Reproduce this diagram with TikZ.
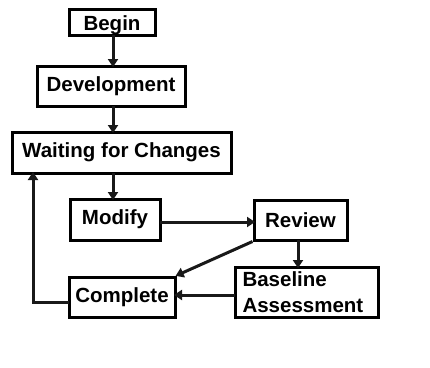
\documentclass[tikz,border=0pt]{standalone}
\usepackage{fontspec}
\setmainfont{Liberation Sans}
\usetikzlibrary{arrows.meta}
\begin{document}
\begin{tikzpicture}[x=1pt,y=-1pt,
  stagebox/.style={draw=black, line width=3pt, fill=white, inner sep=0pt,
    font=\fontsize{20.5}{26}\selectfont\bfseries},
  conn/.style={line width=3pt, draw=black!90,
    -{Triangle[width=10pt,length=8pt]}, shorten >=-1pt}]
\useasboundingbox (0,0) rectangle (430,367);
\fill[white] (0,0) rectangle (430,367);

% process stages
\node[stagebox, minimum width=86pt, minimum height=26pt] (begin) at (112,22)
  {\raisebox{-3pt}[\height][\depth]{Begin}};
\node[stagebox, minimum width=148pt, minimum height=40pt] (dev) at (111,86) {Development};
\node[stagebox, minimum width=219pt, minimum height=41pt] (wait) at (121.5,152.5) {Waiting for Changes};
\node[stagebox, minimum width=90pt, minimum height=41pt] (modify) at (115,219.5) {Modify};
\node[stagebox, minimum width=93pt, minimum height=40pt] (review) at (300.5,220) {Review};
\node[stagebox, minimum width=143pt, minimum height=50pt, align=left,
  text width=128pt] (base) at (306.5,292) {Baseline\\Assessment};
\node[stagebox, minimum width=106pt, minimum height=40pt] (complete) at (122,297) {Complete};

% anchor points for the straight runs
\coordinate (b1) at (113,35);
\coordinate (d1) at (113,66);
\coordinate (d2) at (113,106);
\coordinate (w1) at (113,132);
\coordinate (w2) at (113,173);
\coordinate (m1) at (113,199);
\coordinate (mr1) at (160,222);
\coordinate (mr2) at (254,222);
\coordinate (r1) at (298,240);
\coordinate (a1) at (298,267);
\coordinate (a2) at (235,295);
\coordinate (c1) at (175,295);
\coordinate (c2) at (69,302);
\coordinate (l1) at (33,302);
\coordinate (l2) at (33,173);

% connectors
\draw[conn] (b1) -- (d1);
\draw[conn] (d2) -- (w1);
\draw[conn] (w2) -- (m1);
\draw[conn] (mr1) -- (mr2);
\draw[conn] (r1) -- (a1);
\draw[conn] (review.south west) -- (complete.north east);
\draw[conn] (a2) -- (c1);
\draw[conn] (c2) -- (l1) -- (l2);
\end{tikzpicture}
\end{document}
